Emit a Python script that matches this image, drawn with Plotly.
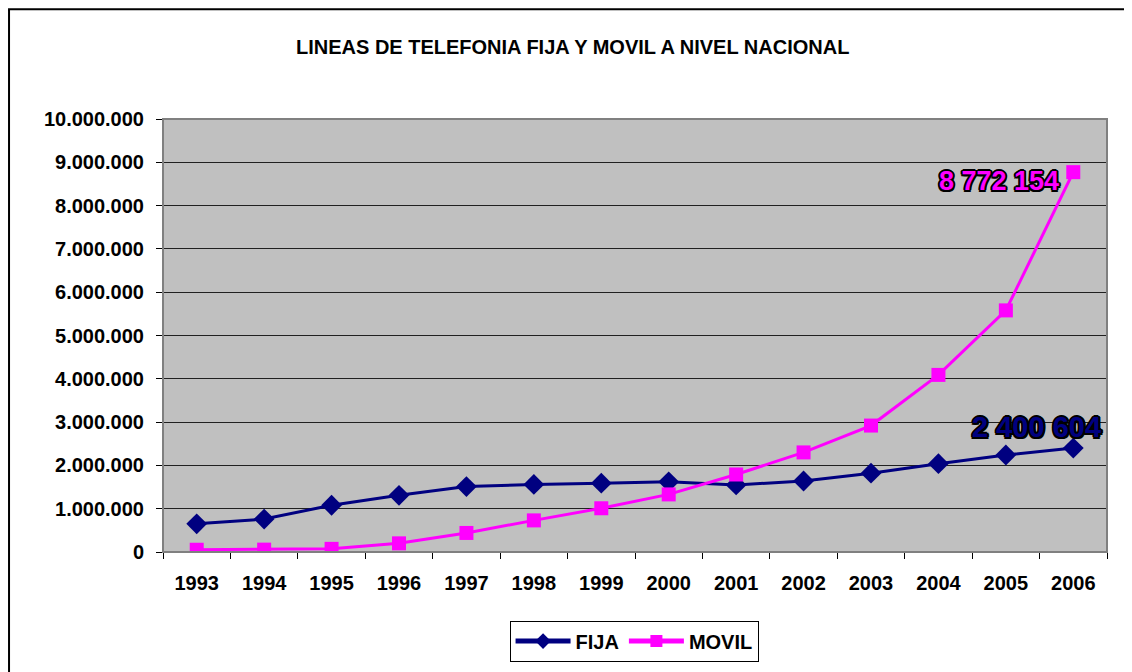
import plotly.graph_objects as go

years = ["1993", "1994", "1995", "1996", "1997", "1998", "1999",
         "2000", "2001", "2002", "2003", "2004", "2005", "2006"]
fija = [650000, 760000, 1080000, 1310000, 1510000, 1560000, 1590000,
        1620000, 1550000, 1640000, 1820000, 2040000, 2240000, 2400604]
movil = [52000, 55000, 73000, 200000, 440000, 730000, 1010000,
         1330000, 1790000, 2300000, 2920000, 4090000, 5580000, 8772154]
y_ticks = [0, 1000000, 2000000, 3000000, 4000000, 5000000, 6000000,
           7000000, 8000000, 9000000, 10000000]
title_text = "LINEAS DE TELEFONIA FIJA Y MOVIL A NIVEL NACIONAL"
label_movil = "8 772 154"
label_fija = "2 400 604"

FONT = "Arial, Liberation Sans, sans-serif"
NAVY = "#000080"
MAG = "#FF00FF"

fig = go.Figure()
fig.add_trace(go.Scatter(
    x=years, y=fija, name="FIJA", mode="lines+markers",
    line=dict(color=NAVY, width=3),
    marker=dict(symbol="diamond", size=16, color=NAVY),
))
fig.add_trace(go.Scatter(
    x=years, y=movil, name="MOVIL", mode="lines+markers",
    line=dict(color=MAG, width=3),
    marker=dict(symbol="square", size=14, color=MAG),
))

outline = ("1.5px 1.5px 0 #000, -1.5px -1.5px 0 #000, 1.5px -1.5px 0 #000, "
           "-1.5px 1.5px 0 #000, 0 2px 0 #000, 0 -2px 0 #000, 2px 0 0 #000, -2px 0 0 #000")

last = len(years) - 1
fig.add_annotation(x=last, y=movil[-1], text="<b>" + label_movil + "</b>",
                   showarrow=False, xanchor="right", yanchor="middle",
                   xshift=-12, yshift=-9,
                   font=dict(family=FONT, size=27, color=MAG, shadow=outline))
fig.add_annotation(x=last, y=fija[-1], text="<b>" + label_fija + "</b>",
                   showarrow=False, xanchor="right", yanchor="middle",
                   xshift=30, yshift=21,
                   font=dict(family=FONT, size=29, color=NAVY, shadow=outline))

fig.add_annotation(xref="paper", yref="paper", x=0.434, y=1.166,
                   text="<b>" + title_text + "</b>", showarrow=False,
                   xanchor="center", yanchor="middle",
                   font=dict(family=FONT, size=20, color="#000"))

# outer frame
fig.add_shape(type="rect", xref="paper", yref="paper",
              x0=-0.1631, x1=1.08, y0=-0.4, y1=1.2535,
              line=dict(color="#000", width=2), layer="below")
# plot area border
fig.add_shape(type="rect", xref="paper", yref="paper",
              x0=0, x1=1, y0=0, y1=1,
              line=dict(color="#808080", width=2), layer="above")

fig.update_layout(
    width=1124, height=664,
    margin=dict(l=155, r=25, t=111, b=119),
    paper_bgcolor="white", plot_bgcolor="#C0C0C0",
    separators=",.",
    font=dict(family=FONT, color="#000"),
    showlegend=True,
    legend=dict(orientation="h", xanchor="center", yanchor="middle",
                x=0.499, y=-0.203, bgcolor="white",
                bordercolor="#000", borderwidth=1,
                font=dict(family=FONT, size=20, color="#000", weight="bold"),
                itemwidth=55, itemsizing="constant"),
)
fig.update_xaxes(
    type="category", range=[-0.5, 13.5],
    showgrid=False, showline=True, linecolor="#000", linewidth=1,
    ticks="outside", ticklen=6, tickcolor="#000", tickson="boundaries",
    tickfont=dict(family=FONT, size=20, color="#000", weight="bold"),
    ticklabelstandoff=13,
)
fig.update_yaxes(
    range=[0, 10000000], tickvals=y_ticks, tickformat=",d",
    showgrid=True, gridcolor="#202020", gridwidth=1,
    showline=True, linecolor="#000", linewidth=1,
    ticks="outside", ticklen=6, tickcolor="#000",
    tickfont=dict(family=FONT, size=20, color="#000", weight="bold"),
    ticklabelstandoff=8,
    zeroline=False,
)

fig.write_html("out.html")
